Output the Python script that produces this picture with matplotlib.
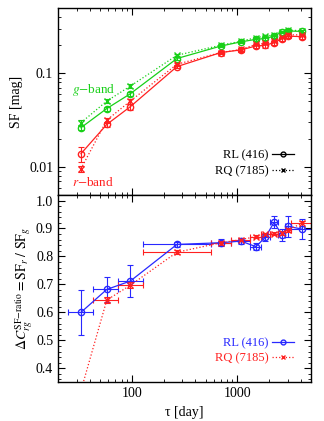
import numpy as np
import matplotlib
matplotlib.use("Agg")
from matplotlib import pyplot as plt
from matplotlib.lines import Line2D
from matplotlib.ticker import AutoMinorLocator, NullFormatter

plt.rcParams['font.family'] = ['Liberation Serif', 'DejaVu Serif']
plt.rcParams['mathtext.fontset'] = 'stix'
plt.rcParams['font.size'] = 10

# time lags (days) and bin edges
tau = [33, 58, 97, 268, 700, 1080, 1500, 1850, 2230, 2650, 3000, 4070]
edges = [25, 43, 74, 127, 560, 875, 1330, 1690, 2030, 2450, 2860, 3200, 5200]

# structure functions [mag]
g_rl = [0.0262, 0.042, 0.0605, 0.144, 0.196, 0.217, 0.231, 0.236, 0.250, 0.277, 0.284, 0.281]
g_rl_err = [0.0015, 0.002, 0.003, 0.005, 0.006, 0.007, 0.008, 0.008, 0.009, 0.010, 0.010, 0.010]
g_rq = [0.0296, 0.0505, 0.073, 0.156, 0.200, 0.220, 0.241, 0.250, 0.257, 0.280, 0.290, 0.286]
g_rq_err = [0.002, 0.002, 0.003, 0.004, 0.004, 0.005, 0.005, 0.005, 0.006, 0.006, 0.006, 0.006]
r_rl = [0.0138, 0.0284, 0.044, 0.118, 0.167, 0.178, 0.196, 0.200, 0.213, 0.234, 0.250, 0.247]
r_rl_err = [0.0025, 0.002, 0.003, 0.005, 0.006, 0.007, 0.010, 0.012, 0.010, 0.010, 0.012, 0.012]
r_rq = [0.0095, 0.0316, 0.0505, 0.125, 0.167, 0.180, 0.204, 0.210, 0.220, 0.245, 0.258, 0.258]
r_rq_err = [0.0008, 0.002, 0.003, 0.004, 0.004, 0.005, 0.005, 0.005, 0.006, 0.006, 0.006, 0.006]

# ratio SF_r / SF_g
rl_ratio = [0.600, 0.682, 0.712, 0.843, 0.849, 0.855, 0.835, 0.869, 0.922, 0.877, 0.908, 0.898]
rl_ratio_err = [0.080, 0.045, 0.058, 0.010, 0.012, 0.010, 0.012, 0.015, 0.022, 0.020, 0.038, 0.036]
rq_ratio = [0.320, 0.644, 0.697, 0.815, 0.849, 0.860, 0.871, 0.879, 0.882, 0.885, 0.894, 0.918]
rq_ratio_err = [0.020, 0.010, 0.010, 0.007, 0.007, 0.006, 0.006, 0.006, 0.006, 0.007, 0.008, 0.010]

green = '#18d018'
red = '#ff2020'
blue = '#2828ff'

t = np.array(tau, dtype=float)
ed = np.array(edges, dtype=float)
xerr = [t - ed[:-1], ed[1:] - t]

fig = plt.figure(figsize=(3.24, 4.21), dpi=100)
ax1 = fig.add_axes([0.179, 0.537, 0.781, 0.444])
ax2 = fig.add_axes([0.179, 0.092, 0.781, 0.445])

ms = 4.5
eb = dict(capsize=2, elinewidth=0.8, capthick=0.8, lw=0.9, ms=ms)

ax1.errorbar(tau, g_rl, yerr=g_rl_err, color=green, marker='o', mfc='none', ls='-', **eb)
ax1.errorbar(tau, g_rq, yerr=g_rq_err, color=green, marker='x', ls=':', **eb)
ax1.errorbar(tau, r_rl, yerr=r_rl_err, color=red, marker='o', mfc='none', ls='-', **eb)
ax1.errorbar(tau, r_rq, yerr=r_rq_err, color=red, marker='x', ls=':', **eb)

ax1.set_xscale('log')
ax1.set_yscale('log')
ax1.set_xlim(20, 5000)
ax1.set_ylim(0.005, 0.5)
ax1.set_yticks([0.01, 0.1])
ax1.set_yticklabels(['0.01', '0.1'])
ax1.xaxis.set_major_formatter(NullFormatter())
ax1.xaxis.set_minor_formatter(NullFormatter())
ax1.yaxis.set_minor_formatter(NullFormatter())
ax1.set_ylabel('SF [mag]')
ax1.text(27, 0.066, r'$g$$-$band', color=green, fontsize=9.5, ha='left', va='center')
ax1.text(27, 0.0068, r'$r$$-$band', color=red, fontsize=9.5, ha='left', va='center')

h1 = [Line2D([], [], color='k', ls='-', marker='o', mfc='none', ms=3.5, lw=0.9),
      Line2D([], [], color='k', ls=':', marker='x', ms=3.5, lw=0.9)]
ax1.legend(h1, ['RL (416)', 'RQ (7185)'], loc='lower right', frameon=False,
           markerfirst=False, handlelength=1.7, handletextpad=0.3, labelspacing=0.3,
           fontsize=9, borderaxespad=1.0)

ax2.errorbar(tau, rl_ratio, yerr=rl_ratio_err, xerr=xerr, color=blue, marker='o', mfc='none',
             ls='-', **eb)
ax2.errorbar(tau, rq_ratio, yerr=rq_ratio_err, xerr=xerr, color=red, marker='x', ls=':', **eb)
ax2.set_xscale('log')
ax2.set_xlim(20, 5000)
ax2.set_ylim(0.35, 1.02)
ax2.set_yticks([0.4, 0.5, 0.6, 0.7, 0.8, 0.9, 1.0])
ax2.yaxis.set_minor_locator(AutoMinorLocator(5))
ax2.set_xticks([100, 1000])
ax2.set_xticklabels(['100', '1000'])
ax2.xaxis.set_minor_formatter(NullFormatter())
ax2.set_xlabel(r'τ [day]')
ax2.set_ylabel(r'$\Delta C_{rg}^{\rm SF\!-\!ratio} = {\rm SF}_r\ /\ {\rm SF}_g$', fontsize=10)

h2 = [Line2D([], [], color=blue, ls='-', marker='o', mfc='none', ms=3.5, lw=0.9),
      Line2D([], [], color=red, ls=':', marker='x', ms=3.5, lw=0.9)]
leg = ax2.legend(h2, ['RL (416)', 'RQ (7185)'], loc='lower right', frameon=False,
                 markerfirst=False, handlelength=1.7, handletextpad=0.3, labelspacing=0.3,
                 fontsize=9, borderaxespad=1.0)
for txt, c in zip(leg.get_texts(), [blue, red]):
    txt.set_color(c)

for ax in (ax1, ax2):
    ax.tick_params(which='both', direction='in', top=True, right=True)
    ax.tick_params(which='major', length=5, width=0.8)
    ax.tick_params(which='minor', length=2.5, width=0.6)
    for s in ax.spines.values():
        s.set_linewidth(1.0)

ax1.yaxis.set_label_coords(-0.14, 0.5)
ax2.yaxis.set_label_coords(-0.09, 0.5)

fig.savefig('out.png', dpi=100)
